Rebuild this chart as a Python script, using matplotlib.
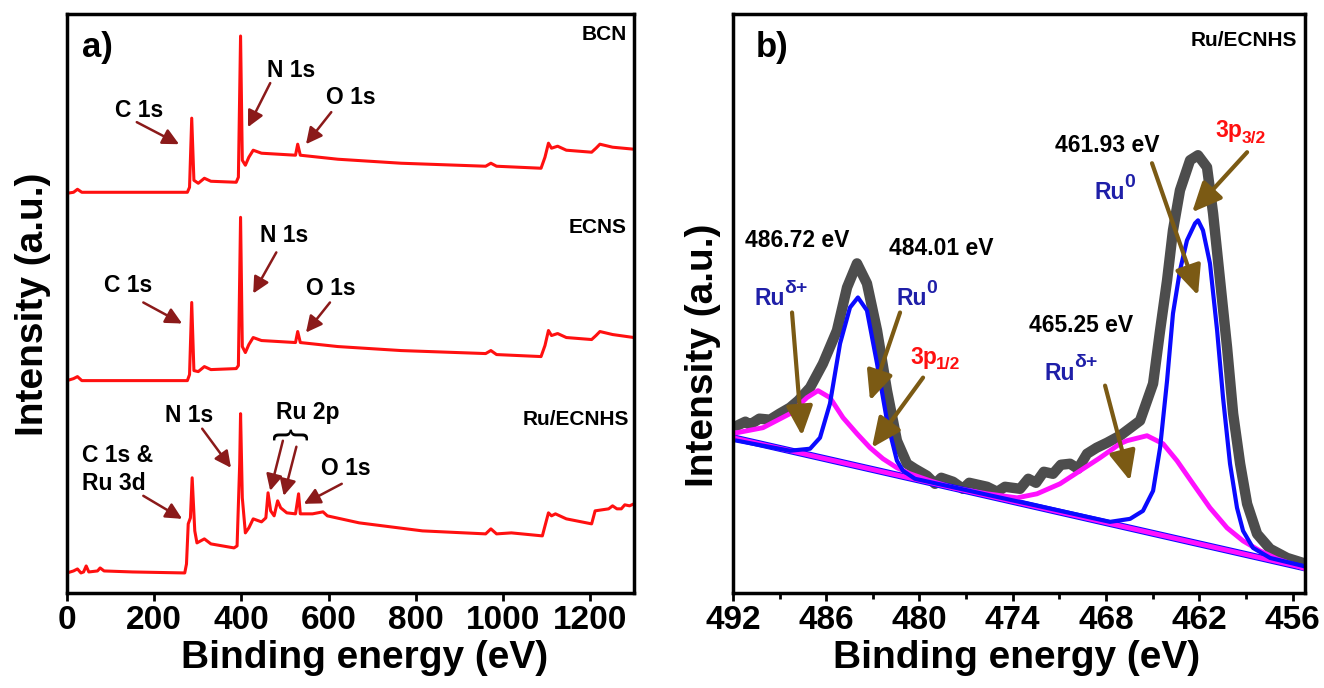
import matplotlib.pyplot as plt
from matplotlib.ticker import MultipleLocator

plt.rcParams['font.family'] = ['Liberation Sans', 'DejaVu Sans']
plt.rcParams['font.weight'] = 'bold'

# ---- panel a: survey spectra (binding energy eV, intensity a.u. incl. offset)
survey_ev = [0, 15, 24, 34, 136, 276, 281, 286, 291, 301, 315, 330, 388, 393, 398, 402,
             409, 417, 427, 446, 524, 529, 535, 621, 766, 960, 972, 985, 1087, 1096,
             1104, 1111, 1125, 1145, 1203, 1213, 1222, 1251, 1300]
bcn_int = [399, 400, 403, 400, 400, 400, 405, 474, 412, 409, 414, 411, 410, 415, 556, 432,
           427, 435, 442, 439, 437, 448, 437, 433, 429, 426, 429, 426, 424, 435,
           449, 444, 446, 442, 440, 444, 448, 445, 443]
ecns_int = [212, 214, 216, 212, 212, 212, 218, 290, 222, 221, 226, 223, 224, 227, 375, 246,
            240, 248, 255, 252, 250, 261, 250, 246, 242, 239, 242, 238, 236, 247,
            262, 257, 259, 255, 253, 257, 261, 258, 255]
ru_ev = [0, 15, 24, 32, 38, 44, 50, 70, 76, 85, 150, 270, 274, 278, 283, 287, 293, 298, 315,
         330, 383, 390, 396, 398, 402, 409, 417, 427, 446, 456, 461, 467, 475, 483, 490, 504,
         524, 531, 535, 563, 587, 597, 670, 815, 960, 972, 985, 1019, 1090, 1104, 1111,
         1120, 1145, 1203, 1211, 1242, 1251, 1261, 1271, 1279, 1290, 1300]
ru_int = [20, 22, 24, 20, 21, 27, 21, 22, 25, 22, 21, 20, 29, 69, 75, 115, 62, 50, 54,
          49, 45, 47, 129, 179, 95, 60, 65, 74, 71, 75, 100, 82, 77, 92, 85, 80,
          79, 99, 79, 79, 81, 77, 70, 62, 59, 64, 59, 60, 57, 80, 77,
          79, 74, 69, 82, 84, 87, 84, 84, 88, 87, 89]

# ---- panel b: Ru 3p high resolution
raw_ev = [491.74, 491.2, 490.91, 490.3, 489.62, 489.0, 488.33, 487.8, 487.04, 486.21,
          485.31, 484.66, 484.02, 483.38, 482.73, 482.09, 481.45, 480.80, 480.3, 479.52,
          479.0, 478.6, 477.84, 477.2, 476.8, 475.65, 475.0, 474.5, 473.53, 473.0,
          472.5, 472.0, 471.41, 470.9, 470.31, 469.8, 469.22, 468.6, 467.93, 467.10,
          465.81, 464.97, 464.52, 464.07, 463.69, 463.24, 462.59, 462.08, 461.50, 461.11,
          460.66, 460.21, 459.82, 459.37, 458.92, 458.28, 457.44, 456.35, 455.32]
raw_int = [167, 171, 168, 174, 173, 179, 185, 192, 205, 229,
           262, 305, 329, 309, 262, 202, 152, 129, 124, 117,
           109, 115, 111, 104, 110, 106, 101, 106, 104, 114,
           110, 121, 119, 128, 129, 124, 139, 145, 150, 157,
           172, 209, 262, 312, 362, 402, 432, 437, 425, 379,
           312, 245, 179, 129, 89, 59, 44, 35, 30]
ru0_ev = [491.74, 488.33, 487.04, 486.40, 485.76, 485.11, 484.47, 483.96, 483.38, 482.73,
          482.09, 481.45, 481.06, 480.29, 467.74, 466.45, 465.62, 464.97, 464.52, 464.07,
          463.69, 463.24, 462.79, 462.27, 462.08, 461.76, 461.31, 460.85, 460.47, 460.02,
          459.57, 459.18, 458.54, 457.44, 455.32]
ru0_int = [152, 142, 144, 155, 189, 249, 285, 295, 282, 229,
           172, 132, 122, 114, 71, 74, 82, 102, 145, 212,
           279, 322, 352, 369, 372, 362, 329, 262, 195, 129,
           85, 62, 45, 35, 27]
rud_ev = [491.74, 490.07, 488.33, 487.24, 486.53, 485.76, 484.92, 484.02, 483.18, 482.35,
          481.45, 480.61, 479.32, 477.84, 475.65, 473.72, 472.44, 470.96, 469.67, 468.38,
          467.10, 466.65, 465.36, 464.33, 463.43, 462.40, 461.31, 460.21, 459.18, 458.09,
          456.99, 455.32]
rud_int = [160, 165, 179, 195, 202, 195, 175, 159, 145, 134,
           125, 119, 112, 105, 99, 95, 99, 109, 122, 135,
           149, 152, 157, 149, 132, 109, 85, 65, 52, 42,
           34, 25]
bg_ev = [492.0, 455.2]
bg_int = [155, 25]

red = '#ff1010'
darkred = '#8b1a1a'
brown = '#7b5a14'
blue = '#0a0aff'
navy = '#1f1fa8'
magenta = '#ff10ff'
gray = '#4d4d4d'

fig = plt.figure(figsize=(13.24, 6.88), dpi=100)
axa = fig.add_axes([0.0506, 0.1381, 0.4282, 0.8416])
axb = fig.add_axes([0.5536, 0.1381, 0.4320, 0.8416])

# ---------------- panel a
for ev, it in [(survey_ev, bcn_int), (survey_ev, ecns_int), (ru_ev, ru_int)]:
    axa.plot(ev, it, color=red, lw=2.2, solid_joinstyle='round')

axa.set_xlim(0, 1300)
axa.set_ylim(0, 578)
axa.set_xticks(range(0, 1201, 200))
axa.set_yticks([])


def sarrow(ax, tail, tip, color=darkred, lw=1.8, ms=14, hl=0.7, hw=0.35):
    ax.annotate('', xy=tip, xytext=tail,
                arrowprops=dict(arrowstyle=f'-|>,head_length={hl},head_width={hw}',
                                lw=lw, color=color, mutation_scale=ms,
                                shrinkA=0, shrinkB=0))


def script_label(ax, x, y, base, small, color, dy, fs=16.5, sfs=14):
    # base text ends at x; super/subscript starts at x, shifted by dy points
    ax.text(x, y, base, fontsize=fs, color=color, ha='right', va='baseline')
    ax.annotate(small, xy=(x, y), xytext=(-0.5, dy), textcoords='offset points',
                fontsize=sfs, color=color, ha='left', va='baseline')


fs_pk = 16.5
fs_s = 15
axa.text(70, 545, 'a)', fontsize=25, ha='center', va='center')
axa.text(1283, 558, 'BCN', fontsize=fs_s, ha='right', va='center')
axa.text(1283, 365, 'ECNS', fontsize=fs_s, ha='right', va='center')
axa.text(1290, 173, 'Ru/ECNHS', fontsize=fs_s, ha='right', va='center')

# BCN
axa.text(165, 482, 'C 1s', fontsize=fs_pk, ha='center', va='center')
sarrow(axa, (160, 470), (257, 448))
axa.text(514, 522, 'N 1s', fontsize=fs_pk, ha='center', va='center')
sarrow(axa, (466, 509), (415, 465))
axa.text(650, 495, 'O 1s', fontsize=fs_pk, ha='center', va='center')
sarrow(axa, (606, 480), (548, 448))
# ECNS
axa.text(141, 307, 'C 1s', fontsize=fs_pk, ha='center', va='center')
sarrow(axa, (175, 290), (264, 269))
axa.text(497, 357, 'N 1s', fontsize=fs_pk, ha='center', va='center')
sarrow(axa, (480, 340), (427, 299))
axa.text(606, 304, 'O 1s', fontsize=fs_pk, ha='center', va='center')
sarrow(axa, (603, 290), (548, 260))
# Ru/ECNHS
axa.text(281, 177, 'N 1s', fontsize=fs_pk, ha='center', va='center')
sarrow(axa, (310, 164), (376, 125))
axa.text(34, 123, 'C 1s &\nRu 3d', fontsize=fs_pk, ha='left', va='center', linespacing=1.3)
sarrow(axa, (175, 97), (264, 74))
axa.text(553, 180, 'Ru 2p', fontsize=fs_pk, ha='center', va='center')
axa.text(514, 159, '}', fontsize=26, fontweight='normal', rotation=90,
         ha='center', va='center')
sarrow(axa, (495, 152), (466, 102))
sarrow(axa, (526, 146), (497, 97))
axa.text(640, 124, 'O 1s', fontsize=fs_pk, ha='center', va='center')
sarrow(axa, (630, 109), (543, 89))

# ---------------- panel b
axb.plot(raw_ev, raw_int, color=gray, lw=7.5, solid_joinstyle='round',
         solid_capstyle='round')
axb.plot(bg_ev, bg_int, color=blue, lw=5.0)
axb.plot(bg_ev, bg_int, color=magenta, lw=3.5)
axb.plot(rud_ev, rud_int, color=magenta, lw=3.5, solid_joinstyle='round')
axb.plot(ru0_ev, ru0_int, color=blue, lw=3.0, solid_joinstyle='round')

axb.set_xlim(492, 455.2)
axb.set_ylim(0, 578)
axb.xaxis.set_major_locator(MultipleLocator(6))
axb.xaxis.set_minor_locator(MultipleLocator(3))
axb.set_yticks([])

axb.text(489.5, 545, 'b)', fontsize=25, ha='center', va='center')
axb.text(455.7, 552, 'Ru/ECNHS', fontsize=fs_s, ha='right', va='center')

axb.text(487.9, 352, '486.72 eV', fontsize=fs_pk, ha='center', va='center')
axb.text(478.6, 344, '484.01 eV', fontsize=fs_pk, ha='center', va='center')
axb.text(469.6, 267, '465.25 eV', fontsize=fs_pk, ha='center', va='center')
axb.text(467.9, 447, '461.93 eV', fontsize=fs_pk, ha='center', va='center')

script_label(axb, 488.65, 287, 'Ru', 'δ+', navy, 9)
script_label(axb, 479.52, 287, 'Ru', '0', navy, 9)
script_label(axb, 470.0, 213, 'Ru', 'δ+', navy, 9)
script_label(axb, 466.8, 393, 'Ru', '0', navy, 9)
script_label(axb, 478.87, 229, '3p', '1/2', red, -4, sfs=12.5)
script_label(axb, 459.2, 455, '3p', '3/2', red, -4, sfs=12.5)

kw = dict(color=brown, lw=3.0, ms=18, hl=1.0, hw=0.45)
sarrow(axb, (488.2, 280), (487.56, 157), **kw)
sarrow(axb, (481.25, 280), (483.18, 192), **kw)
sarrow(axb, (479.77, 215), (483.06, 145), **kw)
sarrow(axb, (468.06, 207), (466.45, 112), **kw)
sarrow(axb, (465.04, 429), (462.08, 297), **kw)
sarrow(axb, (458.92, 440), (462.46, 380), **kw)

for ax in (axa, axb):
    for s in ax.spines.values():
        s.set_linewidth(2.5)
    ax.tick_params(axis='x', which='major', direction='out', length=6, width=2,
                   labelsize=24, pad=3)
    ax.tick_params(axis='x', which='minor', direction='out', length=4, width=2)
    ax.set_xlabel('Binding energy (eV)', fontsize=28, fontweight='bold')
    ax.set_ylabel('Intensity (a.u.)', fontsize=28, fontweight='bold')
    ax.xaxis.label.set_va('center')
    ax.yaxis.label.set_va('center')

axa.xaxis.set_label_coords(0.524, -0.112)
axb.xaxis.set_label_coords(0.495, -0.112)
axa.yaxis.set_label_coords(-0.06, 0.498)
axb.yaxis.set_label_coords(-0.052, 0.41)

fig.savefig('out.png', dpi=100)
